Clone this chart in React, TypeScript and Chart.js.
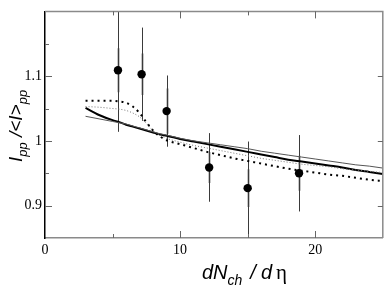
import React, { useEffect, useRef } from "react";
import { Chart, registerables } from "chart.js";

Chart.register(...registerables);

// measured points
const xPoints = [5.4, 7.15, 9.0, 12.15, 15.0, 18.8];
const yPoints = [1.109, 1.103, 1.046, 0.959, 0.927, 0.95];
const totErr = [0.095, 0.072, 0.055, 0.053, 0.072, 0.059];
const statErr = [0.034, 0.032, 0.035, 0.024, 0.029, 0.027];

// model curves
const curveX = [3, 4, 5, 5.5, 6, 6.5, 7, 7.5, 8, 8.5, 9, 10, 11, 12, 13, 14, 15, 16, 17, 18, 19, 20, 21, 22, 23, 24, 25];
const thickDotted = [1.062, 1.062, 1.062, 1.061, 1.059, 1.053, 1.043, 1.029, 1.016, 1.007, 1.001, 0.995, 0.989, 0.983, 0.978, 0.973, 0.969, 0.965, 0.961, 0.957, 0.954, 0.951, 0.948, 0.946, 0.943, 0.94, 0.938];
const fineDotted = [1.053, 1.052, 1.05, 1.049, 1.047, 1.043, 1.037, 1.027, 1.016, 1.009, 1.004, 0.998, 0.993, 0.989, 0.985, 0.981, 0.977, 0.973, 0.97, 0.967, 0.964, 0.962, 0.96, 0.957, 0.955, 0.953, 0.951];
const thickSolid = [1.051, 1.04, 1.032, 1.029, 1.025, 1.022, 1.019, 1.016, 1.013, 1.01, 1.008, 1.003, 0.999, 0.995, 0.991, 0.987, 0.983, 0.979, 0.975, 0.971, 0.968, 0.965, 0.962, 0.959, 0.955, 0.952, 0.949];
const thinSolid = [1.038, 1.034, 1.03, 1.028, 1.026, 1.023, 1.02, 1.017, 1.014, 1.011, 1.009, 1.004, 1.0, 0.997, 0.994, 0.991, 0.988, 0.984, 0.981, 0.978, 0.975, 0.972, 0.969, 0.966, 0.963, 0.961, 0.958];

// axes
const xMin = 0, xMax = 25;
const yMin = 0.85, yMax = 1.2;
const xLabels = [0, 10, 20];
const xMajor = [10, 20];
const xMinor = [5, 15];
const yLabels = [0.9, 1, 1.1];
const yMajor = [0.9, 1, 1.1];
const yMinor = [0.95, 1.05, 1.15];

const curve = (data: number[]) => curveX.map((x, i) => ({ x, y: data[i] }));

const decorPlugin = {
  id: "decor",
  beforeDatasetsDraw(chart: any) {
    const { ctx, chartArea, scales } = chart;
    const xs = scales.x, ys = scales.y;
    ctx.save();
    ctx.beginPath();
    ctx.rect(chartArea.left, chartArea.top, chartArea.right - chartArea.left, chartArea.bottom - chartArea.top);
    ctx.clip();
    xPoints.forEach((x, i) => {
      const px = Math.round(xs.getPixelForValue(x)) + 0.5;
      ctx.strokeStyle = "#c8c8c8";
      ctx.lineWidth = 3;
      ctx.beginPath();
      ctx.moveTo(px, ys.getPixelForValue(yPoints[i] + statErr[i]));
      ctx.lineTo(px, ys.getPixelForValue(yPoints[i] - statErr[i]));
      ctx.stroke();
      ctx.strokeStyle = "#3a3a3a";
      ctx.lineWidth = 1;
      ctx.beginPath();
      ctx.moveTo(px, ys.getPixelForValue(yPoints[i] + totErr[i]));
      ctx.lineTo(px, ys.getPixelForValue(yPoints[i] - totErr[i]));
      ctx.stroke();
    });
    ctx.restore();
  },
  afterDraw(chart: any) {
    const { ctx, chartArea, scales } = chart;
    const xs = scales.x, ys = scales.y;
    const { left, right, top, bottom } = chartArea;
    ctx.save();
    // frame top/right
    ctx.strokeStyle = "#8a8a8a";
    ctx.lineWidth = 1.5;
    ctx.beginPath();
    ctx.moveTo(left, top);
    ctx.lineTo(right, top);
    ctx.lineTo(right, bottom);
    ctx.stroke();
    // ticks
    ctx.strokeStyle = "#666";
    ctx.lineWidth = 1;
    const tickX = (v: number, len: number) => {
      const px = Math.round(xs.getPixelForValue(v)) + 0.5;
      ctx.beginPath();
      ctx.moveTo(px, bottom);
      ctx.lineTo(px, bottom - len);
      ctx.moveTo(px, top);
      ctx.lineTo(px, top + len);
      ctx.stroke();
    };
    const tickY = (v: number, len: number, rlen: number) => {
      const py = Math.round(ys.getPixelForValue(v)) + 0.5;
      ctx.beginPath();
      ctx.moveTo(left, py);
      ctx.lineTo(left + len, py);
      if (rlen > 0) {
        ctx.moveTo(right, py);
        ctx.lineTo(right - rlen, py);
      }
      ctx.stroke();
    };
    xMajor.forEach((v) => tickX(v, 7));
    xMinor.forEach((v) => tickX(v, 4));
    yMajor.forEach((v) => tickY(v, 7, 5));
    yMinor.forEach((v) => tickY(v, 4, 0));

    // Y title
    const big = "italic 19px 'Liberation Sans', Arial, sans-serif";
    const small = "italic 13px 'Liberation Sans', Arial, sans-serif";
    const yParts: [string, string, number][] = [
      ["I", big, 0], ["pp", small, 5], [" /", big, 0], ["<", big, 0], ["I", big, 0], [">", big, 0], ["pp", small, 5],
    ];
    let total = 0;
    yParts.forEach(([t, f]) => { ctx.font = f; total += ctx.measureText(t).width; });
    ctx.translate(22, 126);
    ctx.rotate(-Math.PI / 2);
    ctx.fillStyle = "#000";
    ctx.textBaseline = "alphabetic";
    let cx = -total / 2;
    yParts.forEach(([t, f, dy]) => {
      ctx.font = f;
      ctx.fillText(t, cx, dy);
      cx += ctx.measureText(t).width;
    });
    ctx.setTransform(1, 0, 0, 1, 0, 0);

    // X title
    const xbig = "italic 20px 'Liberation Sans', Arial, sans-serif";
    const xsmall = "italic 14px 'Liberation Sans', Arial, sans-serif";
    const xParts: [string, string, number, number][] = [
      ["dN", xbig, 0, 0], ["ch", xsmall, 6, 0], ["/", xbig, 0, 8], ["d", xbig, 0, 5], ["\u03b7", "21px 'Liberation Serif', 'Times New Roman', serif", 0, 4],
    ];
    let tx = 202;
    xParts.forEach(([t, f, dy, gap]) => {
      tx += gap;
      ctx.font = f;
      ctx.fillText(t, tx, 279 + dy);
      tx += ctx.measureText(t).width;
    });
    ctx.restore();
  },
};

export default function App() {
  const ref = useRef<HTMLCanvasElement | null>(null);
  useEffect(() => {
    if (!ref.current) return;
    const chart = new Chart(ref.current, {
      type: "scatter",
      data: {
        datasets: [
          {
            type: "line",
            data: curve(thinSolid),
            borderColor: "#555",
            borderWidth: 1,
            pointRadius: 0,
            cubicInterpolationMode: "monotone",
          } as any,
          {
            type: "line",
            data: curve(fineDotted),
            borderColor: "#777",
            borderWidth: 1,
            borderDash: [1, 2],
            pointRadius: 0,
            cubicInterpolationMode: "monotone",
          } as any,
          {
            type: "line",
            data: curve(thickSolid),
            borderColor: "#000",
            borderWidth: 2,
            pointRadius: 0,
            cubicInterpolationMode: "monotone",
          } as any,
          {
            type: "line",
            data: curve(thickDotted),
            borderColor: "#000",
            borderWidth: 2,
            borderDash: [2, 4],
            pointRadius: 0,
            cubicInterpolationMode: "monotone",
          } as any,
          {
            data: xPoints.map((x, i) => ({ x, y: yPoints[i] })),
            backgroundColor: "#000",
            borderColor: "#000",
            pointRadius: 4.2,
            borderWidth: 0,
          },
        ],
      },
      options: {
        animation: false,
        responsive: false,
        events: [],
        layout: { padding: { left: 0, top: 1, right: 3, bottom: 0 } },
        plugins: { legend: { display: false }, tooltip: { enabled: false } },
        scales: {
          x: {
            type: "linear",
            min: xMin,
            max: xMax,
            afterFit: (s: any) => { s.height = 51; },
            ticks: {
              stepSize: 5,
              autoSkip: false,
              maxRotation: 0,
              padding: 4,
              color: "#000",
              font: { family: "'Liberation Serif', 'Times New Roman', serif", size: 14 },
              callback: (v: any) => (xLabels.some((l) => Math.abs(l - v) < 1e-6) ? String(Math.round(v)) : ""),
            },
            grid: { display: false, drawTicks: false },
            border: { display: true, color: "#8a8a8a", width: 1.5 },
          },
          y: {
            type: "linear",
            min: yMin,
            max: yMax,
            afterFit: (s: any) => { s.width = 45; },
            ticks: {
              stepSize: 0.05,
              autoSkip: false,
              padding: 3,
              color: "#000",
              font: { family: "'Liberation Serif', 'Times New Roman', serif", size: 14 },
              callback: (v: any) => {
                const l = yLabels.find((l) => Math.abs(l - v) < 1e-6);
                return l === undefined ? "" : String(l);
              },
            },
            grid: { display: false, drawTicks: false },
            border: { display: true, color: "#000", width: 1.5 },
          },
        },
      },
      plugins: [decorPlugin],
    } as any);
    return () => chart.destroy();
  }, []);
  return (
    <div style={{ position: "fixed", left: 0, top: 0, width: 387, height: 289, background: "#fff" }}>
      <canvas ref={ref} width={387} height={289} style={{ width: 387, height: 289, display: "block" }} />
    </div>
  );
}
